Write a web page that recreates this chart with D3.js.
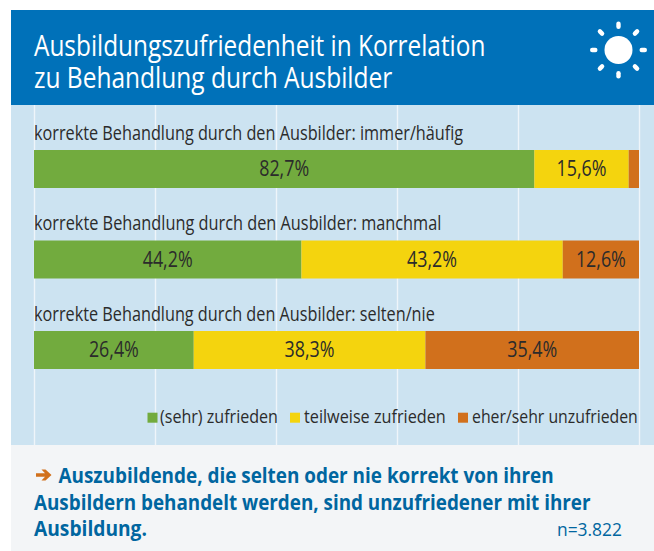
<!DOCTYPE html>
<html><head><meta charset="utf-8">
<script src="https://cdn.jsdelivr.net/npm/d3@7"></script>
<style>html,body{margin:0;padding:0;background:#fff}svg{display:block}text{font-family:"Open Sans",sans-serif}</style>
</head><body><svg id="c" width="654" height="551"></svg>
<script>
const titleLines = ["Ausbildungszufriedenheit in Korrelation", "zu Behandlung durch Ausbilder"];
const categories = ["korrekte Behandlung durch den Ausbilder: immer/häufig", "korrekte Behandlung durch den Ausbilder: manchmal", "korrekte Behandlung durch den Ausbilder: selten/nie"];
const seriesNames = ["(sehr) zufrieden", "teilweise zufrieden", "eher/sehr unzufrieden"];
const zufrieden = [82.7, 44.2, 26.4];
const teilweise = [15.6, 43.2, 38.3];
const unzufrieden = [1.7, 12.6, 35.4];
const tickValues = [0, 20, 40, 60, 80, 100];
const colors = ["#72ab3e", "#f4d40e", "#d1701c"];
const footerLines = ["Auszubildende, die selten oder nie korrekt von ihren", "Ausbildern behandelt werden, sind unzufriedener mit ihrer", "Ausbildung."];
const sampleNote = "n=3.822";

const svg = d3.select("#c");
const x = d3.scaleLinear().domain([0, 100]).range([34, 639]).clamp(true);
const y = d3.scaleBand().domain(categories).range([150, 150 + 3 * 90.5]);
const barH = 38;

// real text squeezed horizontally to the condensed width of the reference
function label(px, py, str, size, fill, w, opts = {}) {
  const t = svg.append("text").attr("font-size", size).attr("fill", fill)
    .attr("font-weight", opts.weight || "normal").attr("text-anchor", opts.anchor || "start").text(str);
  const k = w / t.node().getComputedTextLength();
  t.attr("transform", `translate(${px},${py}) scale(${k},1)`);
  return t;
}

svg.append("rect").attr("x", 11).attr("y", 105).attr("width", 643).attr("height", 340).attr("fill", "#cce3f1");
svg.append("rect").attr("x", 11).attr("y", 10).attr("width", 643).attr("height", 95).attr("fill", "#0071b9");
svg.append("rect").attr("x", 11).attr("y", 445).attr("width", 643).attr("height", 106).attr("fill", "#f3f5f7");

// grid
const axis = d3.axisBottom(x).tickValues(tickValues).tickSize(340).tickFormat("");
const g = svg.append("g").attr("transform", "translate(0,105)").call(axis);
g.select(".domain").remove();
g.selectAll("line").attr("stroke", "#eef5fa").attr("stroke-width", 1.4);

// title
const titleW = [451.5, 358.5];
titleLines.forEach((t, i) => label(34, 56 + i * 32, t, 29, "#fff", titleW[i]));

// sun
const sun = svg.append("g").attr("transform", "translate(618.5,50)").attr("fill", "#fff");
sun.append("circle").attr("r", 14);
d3.range(8).forEach(i => {
  sun.append("rect").attr("x", -2.2).attr("y", -28.5).attr("width", 4.4).attr("height", 7.5).attr("rx", 2.2)
    .attr("transform", `rotate(${i * 45})`);
});

// rows
const subW = [429.5, 407.5, 401];
categories.forEach((c, i) => {
  const top = y(c);
  label(34, top - 10.5, c, 19.5, "#2b2b2b", subW[i]);
  let acc = 0;
  [zufrieden[i], teilweise[i], unzufrieden[i]].forEach((v, s) => {
    const x0 = x(acc), x1 = x(acc + v);
    svg.append("rect").attr("x", x0).attr("y", top).attr("width", x1 - x0).attr("height", barH).attr("fill", colors[s]);
    if (v >= 5) label((x0 + x1) / 2, top + 26, d3.format(".1f")(v).replace(".", ",") + "%", 21, "#2b2b2b", 50, { anchor: "middle" });
    acc += v;
  });
});

// legend
const legendSq = [147.5, 290, 458];
const legendTx = [160, 304, 472];
const legendW = [118, 142, 166];
seriesNames.forEach((n, i) => {
  svg.append("rect").attr("x", legendSq[i]).attr("y", 412.7).attr("width", 10).attr("height", 10).attr("fill", colors[i]);
  label(legendTx[i], 423, n, 19, "#2b2b2b", legendW[i]);
});

// footer
svg.append("path").attr("d", "M36 473.2H45L41.5 469.5H45.5L51.5 475L45.5 480.5H41.5L45 476.8H36Z").attr("fill", "#d1701c");
const footX = [58.5, 34, 34], footY = [483, 510, 536], footW = [495.5, 557, 113];
footerLines.forEach((t, i) => label(footX[i], footY[i], t, 21, "#0066a0", footW[i], { weight: "bold" }));
label(557, 536, sampleNote, 18, "#0066a0", 65);
</script></body></html>
